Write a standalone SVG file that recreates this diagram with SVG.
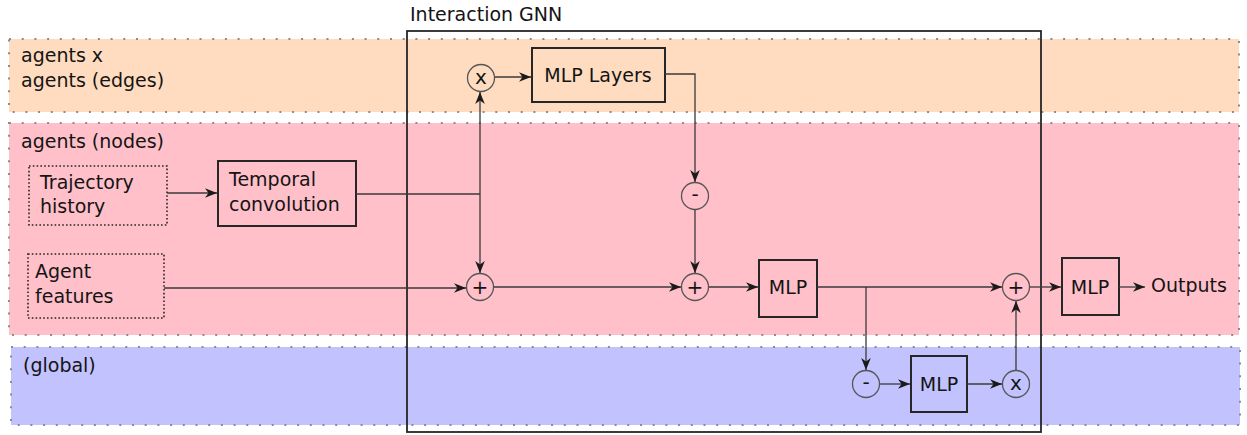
<svg xmlns="http://www.w3.org/2000/svg" width="1247" height="435" viewBox="0 0 1247 435">
  <defs>
    <marker id="arrow" viewBox="-13 -6 14 12" refX="0" refY="0" markerWidth="14" markerHeight="12" markerUnits="userSpaceOnUse" orient="auto">
      <path d="M0,0 L-12,-4.8 L-8.5,0 L-12,4.8 Z" fill="#1a1a1a"/>
    </marker>
    <style>
      .band { stroke: #8c8c8c; stroke-width: 2; stroke-dasharray: 2 10.7; }
      .box { fill: none; stroke: #262626; stroke-width: 2; }
      .dotbox { fill: none; stroke: #262626; stroke-width: 1.6; stroke-dasharray: 1.6 2.2; }
      .op { fill: none; stroke: #555; stroke-width: 1.3; }
      .lbl { font-family: "DejaVu Sans", "Noto Sans", sans-serif; font-size: 19px; fill: #141414; }
      .sym { font-size: 20px; }
      .mid { text-anchor: middle; }
      .wire { fill: none; stroke: #3a3a3a; stroke-width: 1.3; }
      .arr { marker-end: url(#arrow); }
    </style>
  </defs>

  <rect width="1247" height="435" fill="#ffffff"/>

  <!-- layer bands -->
  <g id="band-edges">
    <rect class="band" x="9" y="39" width="1230" height="73" fill="#ffdcc0"/>
    <text class="lbl" x="21" y="62">agents x</text>
    <text class="lbl" x="21" y="87">agents (edges)</text>
  </g>
  <g id="band-nodes">
    <rect class="band" x="9" y="123" width="1230" height="212" fill="#ffc0ca"/>
    <text class="lbl" x="21" y="148">agents (nodes)</text>
  </g>
  <g id="band-global">
    <rect class="band" x="11" y="347" width="1229" height="78" fill="#c2c2ff"/>
    <text class="lbl" x="23" y="372">(global)</text>
  </g>

  <!-- interaction block frame -->
  <g id="interaction-gnn">
    <rect x="407" y="31" width="634" height="401" fill="none" stroke="#262626" stroke-width="1.8"/>
    <text class="lbl" x="410" y="21">Interaction GNN</text>
  </g>

  <!-- inputs -->
  <g id="trajectory-history">
    <rect class="dotbox" x="29" y="166" width="138" height="59"/>
    <text class="lbl" x="40" y="189">Trajectory</text>
    <text class="lbl" x="40" y="213">history</text>
  </g>
  <g id="agent-features">
    <rect class="dotbox" x="28" y="254" width="136" height="64"/>
    <text class="lbl" x="35" y="278">Agent</text>
    <text class="lbl" x="35" y="303">features</text>
  </g>
  <g id="temporal-convolution">
    <rect class="box" x="218" y="161" width="138" height="65"/>
    <text class="lbl" x="229" y="186">Temporal</text>
    <text class="lbl" x="229" y="211">convolution</text>
  </g>

  <!-- edge stage -->
  <g id="edge-product">
    <circle class="op" cx="481" cy="78" r="13.5"/>
    <text class="lbl sym mid" x="481" y="84">x</text>
  </g>
  <g id="mlp-layers">
    <rect class="box" x="532" y="48" width="133" height="54"/>
    <text class="lbl mid" x="598" y="82">MLP Layers</text>
  </g>
  <g id="edge-reduce">
    <circle class="op" cx="695" cy="196" r="13.5"/>
    <text class="lbl sym mid" x="695" y="201">-</text>
  </g>

  <!-- node stage -->
  <g id="node-sum-1">
    <circle class="op" cx="480" cy="287" r="13.5"/>
    <text class="lbl sym mid" x="480" y="294">+</text>
  </g>
  <g id="node-sum-2">
    <circle class="op" cx="695" cy="287" r="13.5"/>
    <text class="lbl sym mid" x="695" y="294">+</text>
  </g>
  <g id="node-mlp">
    <rect class="box" x="759" y="260" width="58" height="57"/>
    <text class="lbl mid" x="788" y="294">MLP</text>
  </g>
  <g id="node-sum-3">
    <circle class="op" cx="1016" cy="287" r="13.5"/>
    <text class="lbl sym mid" x="1016" y="294">+</text>
  </g>

  <!-- global stage -->
  <g id="global-reduce">
    <circle class="op" cx="866" cy="384" r="13.5"/>
    <text class="lbl sym mid" x="866" y="389">-</text>
  </g>
  <g id="global-mlp">
    <rect class="box" x="911" y="356" width="56" height="56"/>
    <text class="lbl mid" x="939" y="391">MLP</text>
  </g>
  <g id="global-product">
    <circle class="op" cx="1016" cy="384" r="13.5"/>
    <text class="lbl sym mid" x="1016" y="390">x</text>
  </g>

  <!-- output head -->
  <g id="output-mlp">
    <rect class="box" x="1062" y="258" width="57" height="57"/>
    <text class="lbl mid" x="1090" y="294">MLP</text>
  </g>
  <g id="outputs">
    <text class="lbl" x="1151" y="292">Outputs</text>
  </g>

  <!-- connectors -->
  <g id="connectors">
    <path class="wire arr" d="M167,193 H217"/>
    <path class="wire" d="M356,194 H480"/>
    <path class="wire arr" d="M480,194 V92"/>
    <path class="wire arr" d="M480,194 V273"/>
    <path class="wire arr" d="M164,288 H466"/>
    <path class="wire arr" d="M495,77 H531"/>
    <path class="wire arr" d="M665,74 H695 V182"/>
    <path class="wire arr" d="M695,210 V273"/>
    <path class="wire arr" d="M494,287 H681"/>
    <path class="wire arr" d="M709,287 H758"/>
    <path class="wire arr" d="M817,287 H1002"/>
    <path class="wire arr" d="M866,287 V370"/>
    <path class="wire arr" d="M880,384 H910"/>
    <path class="wire arr" d="M967,384 H1002"/>
    <path class="wire arr" d="M1016,370 V301"/>
    <path class="wire arr" d="M1030,287 H1061"/>
    <path class="wire arr" d="M1119,287 H1145"/>
  </g>
</svg>
